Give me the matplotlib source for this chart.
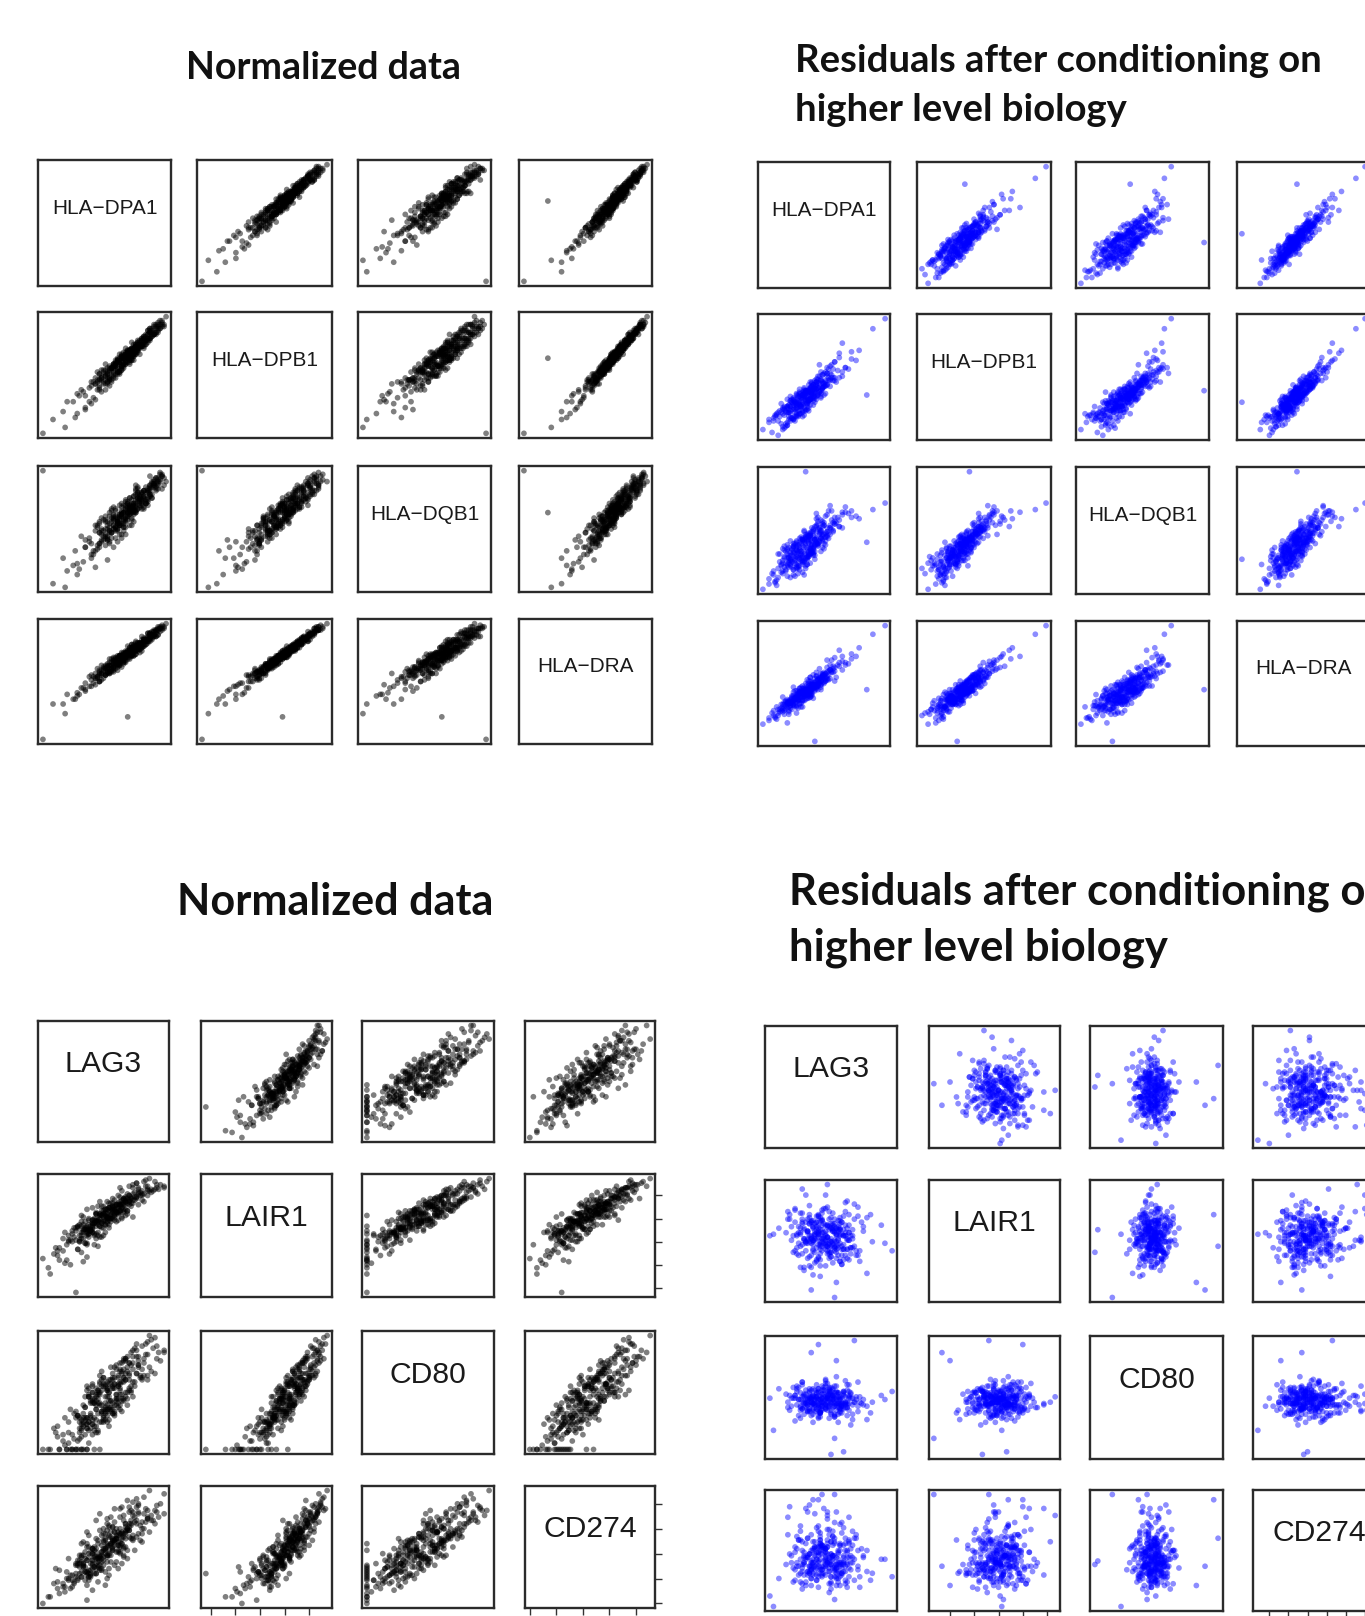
import matplotlib
matplotlib.use("Agg")
import matplotlib.pyplot as plt
from matplotlib.ticker import MaxNLocator
import numpy as np

# ---------------- gene names ----------------
hla_genes = ["HLA\u2212DPA1", "HLA\u2212DPB1", "HLA\u2212DQB1", "HLA\u2212DRA"]
imm_genes = ["LAG3", "LAIR1", "CD80", "CD274"]

# ---------------- HLA block, normalized expression (tenths) ----------------
hla_norm_dpa1 = [
    -41, -30, -31, -24, -26, -20, -23, -18, -21, -16,
    -15, -13, -17, -12, -14, -11, -15, -13, -10, -14,
    -12, -9, -10, -13, -8, -11, -7, -10, -12, -8,
    -9, -6, -8, -10, -5, -7, -9, -6, -8, -4,
    -7, -4, -6, -8, -3, -5, -7, -2, -6, -4,
    -5, -2, -4, -6, -1, -3, -5, -2, -4, -1,
    -3, 0, -2, -4, 1, -1, -3, 0, -2, -5,
    -1, 2, -2, 0, -3, 1, -1, 2, 0, -2,
    1, -1, 3, 0, 2, -2, 1, 4, 0, 2,
    2, 4, 1, 3, 5, 0, 3, 2, 4, 1,
    4, 6, 3, 5, 2, 7, 4, 3, 6, 5,
    6, 4, 7, 5, 8, 3, 6, 7, 5, 9,
    8, 6, 9, 7, 10, 5, 8, 9, 7, 11,
    10, 12, 9, 11, 8, 13, 10, 11, 9, 12,
    12, 14, 11, 13, 15, 12, 14, 13, 16, 12,
    15, 17, 14, 16, 18, 16, 17, 19, 18, 20,
    -36, -25, -29, -20, -24, -17, -22, -15, -20, -13,
    -17, -10, -14, -18, -9, -15, -12, -16, -8, -13,
    -8, -13, -11, -6, -14, -9, -12, -7, -10, -13,
    -11, -5, -9, -4, -10, -7, -3, -9, -6, -12,
    -3, -8, -5, -9, -2, -7, -4, -10, -6, -1,
    -6, -1, -7, -3, -5, 0, -8, -2, -4, -6,
    0, -4, -2, -6, 1, -3, -5, 2, -1, -4,
    3, -2, 1, -4, 2, -1, 4, -3, 0, 3,
    -2, 3, 0, 4, -1, 2, 5, 1, -3, 3,
    5, 1, 3, 6, 0, 4, 2, 7, 1, 5,
    2, 6, 5, 3, 7, 1, 6, 4, 8, 3,
    8, 4, 6, 9, 3, 7, 5, 10, 4, 8,
    6, 10, 8, 5, 11, 7, 9, 12, 6, 10,
    12, 9, 11, 8, 13, 10, 12, 9, 14, 11,
    14, 11, 15, 13, 12, 16, 14, 12, 15, 13,
    15, 16, 14, 17, 15, 18, 16, 17, 19, 18,
]
hla_norm_dpb1 = [
    -38, -35, -27, -28, -22, -25, -19, -22, -17, -20,
    -13, -16, -14, -11, -16, -12, -13, -15, -11, -12,
    -10, -12, -8, -11, -10, -7, -12, -9, -10, -11,
    -7, -9, -10, -6, -8, -9, -5, -8, -7, -6,
    -5, -8, -4, -6, -7, -4, -5, -6, -3, -7,
    -3, -5, -2, -4, -3, -6, -2, -4, -5, -3,
    -1, -3, -4, -1, -2, 0, -3, -2, -1, -4,
    0, -2, 1, -1, -2, 0, 1, -1, 2, 0,
    2, 0, 1, 3, -1, 2, 0, 3, 1, 2,
    3, 1, 4, 2, 3, 5, 1, 4, 2, 3,
    5, 3, 4, 6, 4, 5, 2, 5, 4, 6,
    5, 7, 6, 4, 6, 8, 5, 7, 6, 5,
    7, 9, 8, 6, 9, 7, 10, 8, 6, 9,
    11, 9, 10, 12, 10, 11, 9, 12, 10, 13,
    13, 12, 14, 12, 13, 15, 12, 14, 14, 13,
    16, 15, 17, 15, 17, 16, 19, 17, 18, 21,
    -31, -30, -22, -26, -18, -23, -16, -21, -19, -14,
    -12, -16, -11, -15, -13, -10, -17, -12, -14, -11,
    -11, -8, -13, -10, -7, -12, -9, -11, -13, -8,
    -6, -10, -8, -7, -9, -5, -8, -10, -7, -6,
    -7, -4, -3, -8, -6, -5, -7, -3, -5, -4,
    -3, -5, -6, -2, -4, -3, -5, -4, -1, -5,
    -2, -1, -4, -3, 0, -2, -1, -3, -2, 0,
    -1, 1, 0, -2, 1, 0, -1, 2, 1, -1,
    1, 0, 2, 1, 3, 0, 2, 1, 0, 2,
    2, 3, 1, 4, 2, 3, 4, 2, 3, 4,
    4, 5, 3, 5, 6, 4, 5, 3, 6, 4,
    6, 5, 7, 6, 5, 8, 6, 7, 5, 7,
    8, 7, 9, 7, 8, 9, 7, 10, 8, 9,
    10, 11, 10, 9, 11, 12, 10, 11, 12, 10,
    13, 14, 12, 13, 15, 13, 12, 14, 13, 15,
    15, 17, 16, 15, 17, 16, 18, 17, 16, 19,
]
hla_norm_dqb1 = [
    24, -40, -24, -33, -28, -18, -30, -15, -26, -22,
    -20, -10, -16, -8, -19, -14, -9, -18, -13, -6,
    -14, -6, -12, -16, -5, -9, -13, -4, -11, -15,
    -12, -3, -7, -11, -9, -2, -13, -6, -10, -4,
    -10, -2, -6, -9, -1, -7, -4, -11, -3, -8,
    -8, 0, -5, -1, -7, -3, 2, -6, -4, 1,
    -6, 2, -1, -5, 3, -3, 0, -7, 1, -2,
    -4, 3, -1, 4, -5, 1, -2, 5, -3, 2,
    -3, 5, 1, -2, 4, 0, 6, -4, 3, 2,
    0, 6, -1, 4, 2, 7, -2, 5, 3, 1,
    1, 8, 3, 6, 0, 9, 5, 2, 7, 4,
    3, 10, 5, 1, 8, 4, 11, 6, 2, 9,
    5, 12, 3, 9, 6, 13, 8, 4, 11, 7,
    7, 14, 10, 5, 12, 9, 15, 8, 13, 11,
    10, 16, 12, 9, 15, 13, 17, 11, 14, 16,
    13, 18, 15, 20, 14, 17, 19, 16, 21, 18,
    -38, -20, -31, -14, -27, -24, -12, -29, -18, -10,
    -22, -8, -17, -13, -25, -6, -15, -20, -9, -16,
    -16, -4, -12, -18, -7, -14, -2, -10, -17, -5,
    -3, -13, -8, -15, -1, -10, -6, -14, 0, -9,
    -11, -1, -7, -4, -13, 2, -9, -3, -8, 1,
    -2, -9, 3, -6, -1, -11, 1, -5, -8, 4,
    5, -4, 0, -8, 6, -2, 3, -6, 1, -5,
    -6, 4, 7, -3, 2, -7, 5, 0, -4, 6,
    6, -3, 8, 2, -5, 9, 1, -1, 5, 3,
    8, 0, 4, 9, -2, 6, 3, 10, 1, 5,
    9, 3, 11, 1, 7, 4, 12, 0, 6, 8,
    12, 4, 9, 13, 2, 8, 14, 6, 10, 3,
    14, 6, 11, 16, 9, 4, 13, 10, 15, 8,
    16, 10, 13, 7, 18, 12, 15, 9, 17, 14,
    18, 13, 20, 15, 11, 19, 16, 21, 14, 17,
    20, 16, 19, 22, 17, 21, 18, 23, 20, 22,
]
hla_norm_dra = [
    -52, -36, -30, -25, -27, -21, -24, -19, -20, -17,
    -14, -16, -12, -15, -13, -14, -11, -16, -12, -13,
    -11, -10, -12, -9, -11, -8, -10, -11, -9, -10,
    -8, -7, -9, -8, -6, -8, -7, -9, -6, -7,
    -6, -5, -7, -4, -6, -5, -6, -3, -5, -6,
    -4, -3, -5, -2, -4, -4, -3, -2, -5, -3,
    -2, -1, -3, -2, -1, -2, 0, -3, -1, -2,
    -1, 0, -1, 1, 0, -38, 0, 1, -1, 0,
    1, 2, 0, 1, 2, 1, 3, 0, 2, 1,
    2, 3, 2, 4, 1, 3, 2, 3, 4, 2,
    4, 5, 3, 4, 5, 4, 6, 3, 5, 4,
    6, 5, 7, 6, 5, 7, 6, 8, 5, 6,
    8, 7, 9, 8, 7, 9, 8, 10, 7, 8,
    10, 11, 9, 10, 12, 10, 11, 9, 11, 10,
    13, 12, 14, 13, 12, 14, 13, 15, 13, 14,
    16, 15, 16, 17, 16, 18, 17, 18, 19, 20,
    -30, -27, -24, -22, -23, -19, -20, -18, -17, -16,
    -15, -12, -14, -13, -11, -14, -12, -13, -11, -12,
    -10, -11, -9, -10, -8, -10, -11, -9, -8, -10,
    -7, -8, -6, -9, -7, -8, -6, -7, -8, -6,
    -5, -6, -4, -5, -7, -4, -5, -6, -4, -5,
    -3, -4, -2, -5, -3, -4, -2, -3, -4, -3,
    -1, -2, -3, -1, -2, 0, -1, -2, -3, -1,
    0, -1, 1, 0, -1, 1, 0, -1, 1, 0,
    2, 1, 0, 2, 1, 3, 1, 2, 0, 1,
    3, 2, 4, 3, 2, 3, 4, 2, 3, 4,
    5, 4, 3, 5, 4, 6, 4, 5, 3, 5,
    6, 7, 5, 6, 7, 5, 6, 7, 6, 5,
    8, 9, 7, 8, 9, 8, 7, 9, 8, 10,
    11, 10, 12, 10, 11, 9, 11, 10, 12, 11,
    13, 14, 12, 13, 14, 13, 15, 12, 14, 13,
    15, 16, 15, 17, 16, 17, 16, 18, 17, 18,
]

# ---------------- HLA block, residuals (tenths) ----------------
hla_res_dpa1 = [
    -28, -18, -24, -15, -20, -22, -12, -19, -14, -21,
    -8, -17, -12, -20, -10, -15, -6, -13, -18, -11,
    -14, -5, -11, -16, -8, -3, -12, -9, -15, -6,
    -4, -12, -9, -2, -14, -7, -10, -5, -1, -11,
    -9, -2, -6, -12, 0, -8, -4, -10, -3, -7,
    -1, -8, -5, 2, -10, -3, -6, 1, -7, -2,
    -5, 1, -3, -8, 3, -1, -6, 2, -4, 0,
    2, -4, 0, 5, -2, 3, -6, 1, 4, -1,
    -2, 5, 1, -4, 6, 2, -1, 4, 8, 0,
    6, 1, 4, 40, -1, 3, 7, 2, 5, 10,
    3, 8, 5, 1, 10, 6, 2, 7, 11, 4,
    9, 4, 7, 12, 3, 8, 13, 5, 10, 6,
    6, 11, 14, 8, 3, 12, 9, 16, 7, 10,
    13, 8, 16, 11, 19, 7, 14, 10, 12, 17,
    11, 18, 15, 22, 13, 9, 20, 16, 24, 14,
    19, 28, 22, 17, 30, 26, 35, 24, 44, 52,
    -24, -15, -21, -12, -19, -13, -18, -10, -16, -11,
    -16, -9, -14, -7, -13, -17, -8, -11, -15, -10,
    -12, -6, -10, -14, -5, -8, -13, -7, -11, -4,
    -9, -3, -11, -6, -8, -2, -10, -5, -7, -12,
    -2, -8, -5, -10, -1, -7, -4, -9, 0, -6,
    -6, 0, -3, -8, 1, -5, -2, -7, -4, 2,
    1, -4, -1, -6, 2, -3, 0, -5, 3, -2,
    -3, 2, -1, 3, -5, 0, 4, -2, 1, -4,
    3, -2, 5, 0, -3, 4, 1, -1, 6, 2,
    0, 5, 3, -1, 6, 2, 4, 7, 1, -2,
    6, 2, 7, 4, 0, 8, 3, 5, 1, 6,
    3, 8, 5, 9, 4, 2, 7, 10, 6, 3,
    10, 5, 8, 12, 6, 9, 4, 11, 7, 13,
    8, 13, 11, 7, 14, 10, 12, 15, 9, 11,
    15, 11, 17, 13, 10, 16, 14, 19, 12, 18,
    18, 14, 21, 16, 24, 19, 26, 22, 33, 30,
]
hla_res_dpb1 = [
    -22, -26, -15, -20, -13, -24, -17, -11, -21, -16,
    -14, -9, -19, -12, -16, -7, -13, -18, -10, -15,
    -7, -13, -10, -4, -15, -11, -6, -14, -8, -12,
    -11, -6, -3, -13, -8, -10, -2, -9, -12, -5,
    -3, -10, -7, -1, -9, -5, -11, 1, -6, -4,
    -7, 0, -4, -9, -2, -6, 2, -8, -1, -5,
    0, -6, 3, -2, -5, 1, -3, -7, 4, -1,
    -3, 1, 5, -5, 2, -1, 3, -4, 0, 6,
    4, -2, 0, 6, -3, 3, 7, -1, 2, 5,
    0, 5, 8, 2, 4, -1, 6, 9, 3, 1,
    7, 2, 9, 5, 0, 8, 4, 11, 6, 3,
    4, 10, 6, 2, 11, 7, 3, 9, 12, 5,
    12, 7, 9, 13, 6, 10, 15, 8, 11, 5,
    9, 15, 12, 7, 14, 11, 17, 13, 8, 16,
    16, 12, 20, 14, 18, 23, 11, 17, 15, 21,
    25, 20, 31, 23, 27, 21, 33, 38, 48, 55,
    -17, -22, -14, -19, -12, -20, -16, -11, -18, -13,
    -10, -14, -12, -16, -9, -13, -15, -8, -11, -14,
    -7, -11, -9, -6, -12, -8, -10, -13, -5, -9,
    -8, -5, -10, -7, -4, -9, -6, -3, -8, -10,
    -4, -7, -2, -6, -9, -3, -5, -1, -8, -4,
    -5, -2, -6, -1, -4, -7, 0, -3, -6, -2,
    -1, -3, 1, -5, -2, 0, -4, 2, -1, -3,
    0, -2, 3, -1, 1, -3, 2, 0, -2, 3,
    -1, 2, 1, 4, -2, 3, 0, 5, 2, -1,
    3, 0, 4, 2, 5, 1, 3, -1, 4, 2,
    4, 6, 1, 5, 3, 7, 2, 6, 4, 1,
    7, 3, 6, 4, 8, 5, 9, 3, 7, 6,
    5, 9, 7, 10, 6, 8, 11, 7, 9, 12,
    11, 8, 10, 13, 9, 12, 8, 14, 10, 11,
    12, 16, 14, 11, 18, 13, 15, 12, 17, 14,
    20, 17, 19, 22, 18, 25, 21, 28, 26, 32,
]
hla_res_dqb1 = [
    -30, -14, -22, -8, -25, -18, -11, -27, -5, -16,
    -19, -3, -12, -24, -7, -16, 0, -10, -21, -13,
    -6, -18, 2, -11, -15, -4, -20, -9, 1, -13,
    -15, 0, -9, -17, 3, -6, -12, -1, -19, -4,
    1, -11, -5, 4, -14, -2, 6, -8, -3, -10,
    -9, 3, -13, -2, 7, -6, 0, -11, 5, -4,
    4, -7, 8, -1, -10, 2, 6, -5, -12, 10,
    -3, 9, 60, 0, -8, 11, 3, -5, 7, -1,
    8, -4, 12, 2, -7, 6, 14, -2, 5, 10,
    -1, 11, 4, 6, 15, 0, 8, 13, -3, 9,
    12, 3, 16, 7, -1, 10, 5, 18, 2, 14,
    6, 17, 9, 1, 13, 20, 4, 11, 15, 8,
    18, 7, 14, 22, 10, 5, 16, 12, 24, 9,
    13, 25, 17, 8, 20, 28, 11, 15, 19, 23,
    22, 14, 30, 18, 26, 12, 21, 34, 17, 27,
    22, 28, 18, 30, 25, 33, 24, 29, 31, 36,
    -26, -10, -19, -6, -23, -15, -3, -21, -12, -8,
    -17, -4, -13, -20, -1, -9, -15, -6, -18, -11,
    -3, -14, -8, 0, -12, -5, -16, -2, -10, -7,
    -13, -1, -6, -11, 2, -9, -4, -14, -7, 1,
    -5, 3, -10, -2, -8, 4, -6, 0, -12, -3,
    2, -7, -1, 5, -11, -4, 3, -8, 0, -5,
    -6, 4, -3, 7, -1, -8, 5, -2, 2, -9,
    5, -4, 8, 1, -6, 3, -2, 9, -5, 0,
    -3, 7, 2, -6, 10, 4, -1, 6, -4, 8,
    9, 1, -3, 7, 4, 11, -1, 5, 2, 8,
    3, 10, 6, 0, 12, 5, 8, -2, 9, 4,
    11, 5, 14, 7, 2, 10, 6, 13, 8, 1,
    9, 15, 4, 12, 8, 17, 6, 11, 14, 10,
    16, 7, 12, 19, 10, 14, 21, 9, 13, 18,
    13, 20, 16, 10, 23, 17, 14, 25, 19, 15,
    21, 17, 25, 19, 27, 20, 29, 23, 26, 30,
]
hla_res_dra = [
    -26, -19, -23, -14, -21, -17, -25, -12, -18, -15,
    -11, -16, -9, -20, -13, -10, -17, -7, -14, -12,
    -13, -7, -15, -10, -5, -12, -8, -14, -4, -11,
    -6, -10, -3, -12, -8, -4, -11, -7, -2, -9,
    -8, -1, -5, -10, -3, -7, 0, -9, -4, -6,
    -3, -7, 1, -5, -9, -1, -4, 2, -6, 0,
    -6, 2, -2, 4, -4, -7, 1, -1, 3, -3,
    3, -1, 2, -5, 5, 0, -3, 6, -2, 1,
    0, 6, -2, 3, -40, 7, 1, -3, 5, 2,
    5, 0, 7, 2, 3, 9, 4, -1, 8, 6,
    1, 7, 4, 10, 6, 2, 9, 5, 12, 3,
    10, 6, 3, 8, 12, 5, 9, 14, 4, 11,
    8, 14, 10, 5, 12, 16, 7, 11, 13, 9,
    15, 11, 18, 13, 9, 16, 20, 12, 14, 17,
    13, 21, 17, 24, 15, 19, 12, 22, 18, 26,
    28, 23, 34, 26, 31, 22, 36, 29, 47, 54,
    -21, -16, -19, -12, -22, -14, -17, -11, -15, -18,
    -13, -9, -15, -11, -8, -14, -10, -16, -12, -7,
    -9, -12, -6, -10, -13, -7, -11, -5, -8, -10,
    -5, -9, -7, -4, -10, -6, -8, -3, -9, -6,
    -7, -3, -6, -8, -2, -5, -9, -4, -1, -7,
    -2, -6, -4, 0, -5, -3, -7, 1, -4, -2,
    -4, 0, -2, -5, 1, -3, 2, -1, -4, 0,
    1, -3, 0, 2, -2, 3, -1, -4, 2, 0,
    -2, 1, 3, -1, 4, 0, 2, -3, 5, 1,
    2, 4, 0, 3, 1, 5, 2, 4, -1, 3,
    5, 1, 6, 3, 7, 2, 4, 6, 0, 5,
    4, 7, 3, 8, 6, 5, 9, 2, 7, 6,
    9, 6, 10, 7, 5, 11, 8, 12, 6, 9,
    10, 12, 8, 13, 11, 9, 14, 10, 12, 15,
    14, 12, 16, 11, 15, 18, 13, 17, 12, 16,
    19, 16, 22, 18, 25, 20, 24, 21, 29, 27,
]

# ---------------- checkpoint block, normalized expression (tenths) ----------------
lag3_norm = [
    -33, -18, -29, -12, -24, -26, -9, -21, -15, -25,
    -20, -6, -14, -22, -10, -17, -3, -12, -19, -8,
    -4, -16, -9, -13, 1, -11, -18, -6, -2, -14,
    -12, -1, -8, -15, -5, 3, -10, -3, -13, -7,
    0, -9, -4, -13, 4, -7, -1, -11, 2, -6,
    -10, 3, -6, 1, -12, -2, 6, -8, -4, 2,
    5, -7, 0, -10, 3, -4, 8, -1, -6, 4,
    -5, 6, -2, 9, -8, 2, -3, 7, 0, -9,
    8, -3, 4, -6, 10, 1, -4, 6, 12, -1,
    2, 11, -2, 7, 0, 13, 5, -4, 9, 3,
    10, 1, 14, 6, -2, 8, 12, 3, 16, 5,
    4, 13, 8, 17, 2, 10, 6, 15, 0, 11,
    14, 5, 11, 19, 8, 3, 16, 9, 13, 21,
    7, 17, 12, 22, 15, 5, 19, 10, 24, 14,
    20, 11, 25, 15, 9, 22, 17, 28, 13, 19,
    24, 14, 21, 29, 18, 26, 31, 23, 33, 28,
    -30, -14, -25, -20, -9, -27, -17, -22, -11, -19,
    -16, -24, -8, -13, -19, -5, -15, -21, -10, -12,
    -7, -13, -17, -2, -11, -15, -5, -9, -14, -3,
    -14, -4, -10, -1, -12, -7, 0, -11, -6, -9,
    -8, 2, -11, -5, -1, -9, 3, -7, -3, -12,
    1, -6, -9, 4, -3, -11, 0, -5, 5, -8,
    -4, 6, -8, 1, -5, 7, -2, -9, 2, -6,
    4, -3, 8, -6, 1, -8, 5, -1, 10, -4,
    -4, 7, 2, 11, -2, 5, -6, 9, 0, 3,
    7, -1, 10, 3, 13, -3, 6, 1, 9, -2,
    1, 12, 5, 9, -1, 15, 3, 7, 11, 2,
    9, 2, 14, 6, 11, 0, 16, 4, 8, 12,
    5, 15, 9, 12, 2, 18, 7, 10, 14, 4,
    18, 9, 14, 6, 20, 12, 8, 16, 11, 21,
    13, 24, 18, 10, 21, 16, 26, 12, 19, 23,
    19, 27, 16, 24, 30, 22, 18, 33, 25, 29,
]
lair1_norm = [
    -26, -30, -36, -22, -27, -19, -25, -29, -48, -21,
    -17, -9, -20, -13, -16, -8, -18, -11, -15, -10,
    -13, -6, -11, -15, -4, -9, -14, -7, -12, -5,
    -9, -3, -12, -6, -10, -1, -7, -11, -4, -8,
    -2, -9, -5, -11, 0, -7, -3, -8, 1, -6,
    -6, 0, -3, -9, 2, -5, -1, -7, 3, -2,
    1, -5, 3, -2, -6, 4, -1, 2, -4, 0,
    -3, 3, 0, 5, -4, 1, -2, 4, -1, 6,
    5, -1, 3, 7, 0, 4, -2, 6, 2, 8,
    0, 6, 3, 9, 1, 5, 8, -1, 4, 7,
    7, 2, 9, 5, 11, 3, 6, 10, 1, 8,
    4, 10, 7, 12, 3, 9, 6, 13, 8, 5,
    11, 6, 13, 9, 15, 7, 10, 14, 5, 12,
    9, 14, 11, 16, 8, 13, 17, 10, 15, 12,
    15, 12, 18, 14, 20, 11, 17, 19, 13, 16,
    18, 21, 16, 20, 23, 19, 22, 25, 21, 24,
    -32, -20, -24, -27, -17, -23, -15, -21, -28, -14,
    -12, -19, -10, -15, -11, -17, -14, -9, -16, -13,
    -8, -14, -10, -5, -13, -8, -11, -16, -6, -9,
    -5, -10, -7, -12, -2, -8, -11, -4, -9, -6,
    -8, -3, -7, -1, -6, -10, -4, -7, -2, -5,
    -1, -5, -7, -2, -4, 1, -6, -3, 0, -8,
    -3, 2, -1, -4, 0, -2, 3, -5, 1, -1,
    2, -1, 4, -3, 3, 0, 5, -2, 1, 3,
    3, 6, 0, 4, 2, 7, -1, 5, 3, 1,
    4, 2, 7, 5, 3, 8, 1, 6, 9, 2,
    6, 9, 4, 8, 5, 10, 7, 3, 9, 6,
    9, 6, 11, 8, 10, 5, 12, 7, 9, 11,
    10, 13, 8, 12, 11, 14, 9, 12, 15, 10,
    13, 11, 15, 12, 17, 14, 10, 16, 13, 18,
    16, 19, 14, 18, 15, 20, 17, 13, 19, 21,
    20, 18, 22, 21, 19, 24, 23, 20, 26, 22,
]
cd80_norm = [
    -22, -22, -22, -22, -22, -14, -22, -20, -22, -11,
    -22, -10, -18, -15, -7, -22, -13, -16, -9, -19,
    -14, -5, -12, -17, -8, -11, -3, -15, -9, -6,
    -10, -4, -13, -7, -22, -11, -8, -5, -12, 0,
    -6, -12, -3, -9, 1, -7, -4, -10, -1, -8,
    -2, -8, 2, -5, -22, 0, -6, 3, -3, -9,
    -5, 1, -7, 3, -3, -8, 2, -1, 5, -4,
    2, -4, 5, -1, 7, -6, 0, 4, -3, 8,
    -2, 6, 1, 9, -4, 3, 7, -1, 5, 11,
    6, 1, 9, 4, 12, -1, 7, 3, 10, 5,
    2, 9, 6, 12, 4, 8, 14, 1, 10, 7,
    11, 5, 13, 8, 3, 15, 9, 6, 12, 16,
    7, 14, 10, 17, 12, 5, 19, 9, 15, 11,
    16, 10, 20, 13, 18, 8, 22, 14, 11, 19,
    12, 21, 17, 24, 15, 19, 26, 14, 22, 18,
    23, 19, 27, 21, 25, 30, 20, 28, 24, 31,
    -22, -22, -16, -22, -22, -12, -22, -18, -22, -14,
    -17, -22, -9, -14, -19, -11, -22, -7, -15, -12,
    -12, -7, -15, -22, -9, -4, -13, -10, -6, -14,
    -6, -11, -2, -9, -13, -5, -8, -1, -10, -7,
    -9, -3, -7, 0, -5, -10, -2, -6, 2, -8,
    -4, 1, -7, -2, 4, -5, -9, 0, -3, 3,
    1, -5, 4, -3, -7, 2, -1, 6, -4, 0,
    -3, 5, 0, 8, -2, 3, -5, 6, 1, -1,
    4, -1, 7, 2, 10, 0, 5, -3, 8, 3,
    1, 8, 4, 11, 2, 6, 9, 0, 7, 13,
    8, 3, 11, 6, 15, 5, 9, 2, 12, 7,
    4, 10, 14, 7, 12, 9, 3, 17, 8, 11,
    12, 8, 16, 11, 6, 14, 18, 10, 13, 9,
    14, 19, 11, 17, 13, 21, 9, 16, 20, 12,
    17, 13, 22, 19, 16, 25, 15, 21, 18, 23,
    20, 26, 22, 29, 24, 21, 28, 25, 32, 27,
]
cd274_norm = [
    -30, -21, -26, -14, -24, -9, -19, -23, -12, -17,
    -15, -22, -6, -18, -11, -20, -8, -14, -3, -16,
    -9, -17, -4, -12, -19, -7, -13, 0, -10, -15,
    -11, -3, -14, -6, 2, -9, -16, -5, -1, -12,
    -4, -13, 3, -8, -1, -10, 5, -6, -15, 0,
    -8, 2, -4, -11, 6, -2, -7, 4, -12, -5,
    3, -6, 7, -3, 0, 9, -9, 1, -4, 5,
    -2, 8, -7, 4, 11, -1, 6, -5, 2, 13,
    7, -3, 10, 3, -6, 12, 1, 8, 18, -1,
    4, 12, -2, 9, 15, 2, 7, 20, 0, 11,
    10, 3, 14, 7, 24, 5, 12, -1, 9, 16,
    6, 15, 11, 2, 18, 9, 13, 26, 8, 4,
    14, 9, 20, 12, 5, 17, 11, 22, 15, 7,
    11, 19, 14, 24, 9, 16, 29, 13, 21, 18,
    17, 23, 13, 20, 27, 15, 22, 18, 32, 25,
    21, 28, 19, 25, 33, 23, 30, 27, 36, 26,
    -26, -16, -21, -11, -28, -18, -13, -20, -8, -15,
    -18, -10, -14, -4, -16, -12, -7, -20, -11, -2,
    -13, -6, -16, -9, -1, -14, -8, -11, -4, -17,
    -7, -12, 1, -10, -5, -14, -2, -8, 3, -11,
    -12, -2, -6, 4, -9, -4, -13, 1, -7, -1,
    0, -9, 4, -5, -2, 7, -7, -1, 2, -10,
    -6, 5, -2, 8, -8, 1, -4, 6, -1, 3,
    6, -3, 2, -7, 9, 0, 4, -5, 12, -2,
    -3, 9, 5, -1, 14, 2, -6, 7, 3, 10,
    10, 1, 6, 16, -3, 8, 13, 2, 5, -1,
    3, 13, 8, 1, 11, 18, 5, 9, -2, 14,
    15, 6, 10, 19, 3, 12, 8, 22, 1, 9,
    8, 17, 12, 4, 21, 10, 15, 6, 25, 13,
    20, 12, 16, 27, 8, 18, 13, 23, 10, 15,
    14, 22, 18, 28, 12, 25, 20, 16, 30, 19,
    24, 20, 31, 26, 22, 34, 28, 24, 38, 29,
]

# ---------------- checkpoint block, residuals (tenths) ----------------
lag3_res = [
    3, -8, 12, -2, 5, -15, 9, 0, -6, 14,
    -11, 4, -3, 18, -7, 1, 10, -13, 6, -1,
    7, -5, 22, -9, 2, -18, 8, 13, -4, 0,
    -2, 11, -7, 5, -12, 16, 3, -10, 9, -6,
    15, -1, 6, -14, 4, -3, 12, -8, 1, 20,
    -5, 8, -16, 2, 10, -7, -2, 14, -11, 5,
    0, -9, 7, 24, -4, 11, -13, 3, -1, 9,
    13, -6, 2, -10, 17, -3, 6, -19, 8, -2,
    -7, 4, 10, -1, -15, 7, 1, 12, -5, 19,
    6, -12, 3, 9, -3, -8, 15, 0, -20, 4,
    -4, 14, -9, 1, 8, -2, 26, -11, 5, 11,
    10, -3, 5, -17, 0, 13, -6, 7, 2, -10,
    -1, 7, -13, 16, 4, -5, 9, -2, 12, -8,
    2, 21, -4, 6, -9, 3, -14, 11, -3, 8,
    -12, 1, 9, -6, 14, 0, 5, -16, 7, 32,
    4, -10, 38, -3, 11, -7, 2, 17, -28, 6,
    8, -3, 14, -11, 2, -6, 19, -1, 5, -16,
    11, -7, 1, -13, 6, -2, 9, -21, 4, -8,
    3, -12, 16, -5, 7, -1, 12, -9, 1, -4,
    20, -6, 4, -15, 9, -3, 2, -10, 13, -7,
    5, -1, 10, -18, 3, -8, 7, -2, 15, -12,
    1, -9, 6, -4, 24, -6, 11, -14, 2, -3,
    9, -17, 4, -2, 13, -8, 1, -5, 18, -11,
    6, -2, 12, -7, 3, -20, 8, -1, 10, -13,
    2, -5, 17, -9, 5, -3, 14, -6, 1, -25,
    12, -4, 7, -11, 3, -1, 22, -8, 6, -15,
    4, -7, 9, -2, 16, -12, 1, -4, 11, -6,
    15, -1, 3, -9, 7, -19, 5, -3, 13, -10,
    1, -14, 10, -5, 2, -7, 27, -2, 8, -4,
    7, -3, 13, -16, 4, -9, 6, -1, 19, -6,
    3, -11, 8, -4, 14, -2, 9, -13, 1, -8,
    10, -5, 2, -30, 6, -12, 34, -7, 4, -1,
]
lair1_res = [
    -4, 9, -12, 2, 16, -7, 5, -1, 11, -15,
    6, -3, 14, -9, 0, 8, -18, 3, -6, 12,
    -10, 1, 7, -14, 20, -2, 4, -8, 10, 0,
    13, -5, -1, 9, -11, 5, 17, -3, -16, 7,
    -7, 11, 3, -4, 6, -13, 1, 15, -2, -9,
    2, -12, 19, 0, -6, 10, -3, 8, -20, 4,
    9, -1, -8, 13, 3, -15, 6, -5, 11, 1,
    -14, 7, 0, -3, 22, 4, -9, 12, -2, 5,
    1, -6, 10, 18, -11, 2, -4, 8, -17, 14,
    -3, 16, -10, 5, 0, 9, -7, 3, 12, -13,
    7, -2, 4, -19, 11, -5, 15, -1, 6, -8,
    -12, 3, 8, 1, -4, 24, -9, 6, 0, 10,
    5, -14, 2, -7, 13, -1, 9, -11, 17, -3,
    -6, 10, -16, 4, -2, 7, -12, 1, 14, -5,
    12, -8, 6, -25, 3, 19, -4, 10, -30, 8,
    -1, 28, -9, 15, 5, -20, 35, -6, 2, -40,
    7, 2, 15, 5, -9, -3, -12, -1, 4, 18,
    1, 10, -6, -20, -2, -8, 11, 3, 6, 1,
    -14, -5, -1, -10, 2, 8, 23, 4, -3, -7,
    -16, -2, 9, 1, 13, 6, -11, -4, -8, -1,
    5, 16, 2, 7, -2, -13, -6, -19, 1, 10,
    4, 12, -7, -1, -24, -5, 14, 3, 8, 2,
    -4, -10, -3, -15, 6, 21, 1, 9, -12, -2,
    -7, -4, 3, 11, 5, 17, -1, -9, -18, -6,
    8, 2, 12, 4, -5, -14, -2, -8, 19, 6,
    1, 10, -3, -22, -7, -1, 4, 13, 7, 2,
    -10, -4, -16, -6, 1, 9, 28, 5, -8, -2,
    -11, -3, 12, 3, 6, 15, -17, -5, -1, -9,
    2, 7, 10, 4, -6, -12, -3, -26, 5, 14,
    1, 8, -2, -9, -13, -4, 9, 3, 20, 6,
    -11, -1, -7, -15, 3, 11, 2, 16, -5, -19,
    -8, -2, 7, 1, 12, 32, -4, -35, -10, -6,
]
cd80_res = [
    5, 2, -3, -8, 1, 11, -6, -1, 4, 7,
    -2, -10, 9, 3, -1, -5, 2, 6, -12, -4,
    7, 1, -3, -7, 13, 2, -5, -1, 3, 8,
    -9, -2, 1, 4, -6, -14, 10, 5, -2, -3,
    6, 1, -4, -11, 2, 9, -1, -6, 15, 3,
    -8, -2, 4, 7, -3, -1, 1, 12, -10, -5,
    8, 2, -2, -4, 3, 6, -7, -13, 11, 1,
    -5, -2, 2, 8, -1, -9, 6, 4, -16, -3,
    1, 5, -4, -7, 9, 2, -2, -1, 3, 14,
    -11, -6, 7, 1, -3, -8, 2, 10, -5, -2,
    12, 4, -1, -6, 5, 3, -9, -1, 1, 7,
    -4, -12, 8, 2, -2, -5, 4, 18, -7, -1,
    2, 6, -13, -3, 10, 1, -6, -4, 3, 9,
    -1, -2, 6, 11, -8, -3, 1, 4, -5, -10,
    14, 2, -3, -7, 2, 5, -1, -15, 30, 4,
    -9, -2, 7, 42, -38, -1, 3, 45, -22, -28,
    3, 7, -2, -5, 1, 9, -8, -1, 4, 2,
    -6, -3, 11, 1, -4, -9, 2, 5, -1, -7,
    6, 3, -10, -2, 1, 8, -5, -3, 13, 2,
    -1, -6, 4, 7, -8, -2, 2, 1, -3, -11,
    9, 5, -2, -4, 1, 3, -7, -1, 5, 12,
    -3, -8, 2, 6, -14, -2, 7, 1, -4, -5,
    3, 10, -1, -9, 8, 2, -6, -3, 1, 4,
    -2, -12, 15, 3, -5, -1, 6, 2, -9, -4,
    2, 8, -1, -3, 4, 1, -7, -16, 3, 9,
    -2, -6, 11, 5, -4, -1, 1, 6, -10, -3,
    7, 2, -5, -8, 2, 14, -3, -1, 5, 3,
    -18, -6, 9, 1, -2, -7, 3, 6, -11, -4,
    1, 10, -6, -2, 4, 8, -1, -9, 6, 2,
    -3, -13, 12, 4, -7, -2, 2, 5, -4, -10,
    8, 3, -1, -6, 3, 1, -9, -5, 16, 7,
    -2, -3, 5, 2, -12, -1, 1, 36, -40, -4,
]
cd274_res = [
    -6, 4, -11, 1, 9, -3, -14, 6, -1, 12,
    3, -9, 0, 15, -5, 7, -2, -12, 10, -7,
    -4, 11, 2, -8, 18, -1, 5, -15, 8, 0,
    14, -6, -10, 3, -2, 9, -13, 1, 6, -4,
    -1, 7, -22, 12, 4, -7, 10, -3, 2, -9,
    8, -12, 5, -1, 16, 0, -5, 11, -8, 3,
    -3, 13, -7, 6, -11, 2, 20, -4, 9, -2,
    5, -8, 10, -14, 1, 17, -6, 4, -1, 8,
    -10, 2, 22, -3, 7, -9, 0, 13, -5, 6,
    11, -4, -1, 9, -15, 4, 3, -7, 15, -2,
    1, 25, -6, 7, -2, 12, -11, 5, 0, 19,
    -7, 3, 14, -12, 8, -1, 6, -4, 28, 2,
    9, -5, 1, 17, -9, 4, -3, 10, -13, 32,
    0, 7, -8, 3, 28, -6, 12, -1, 5, -10,
    6, -2, 21, -7, 2, 30, -4, 8, -14, 1,
    4, 30, -9, 35, 0, -5, 26, 13, -26, 38,
    6, -3, -9, 2, 12, -1, -5, 8, 3, -11,
    -2, 15, 1, -7, -4, 10, 9, -2, -13, 4,
    18, -6, -1, 7, 2, -9, -3, 13, 5, -4,
    -15, 1, 11, -1, -7, 20, 4, -12, -2, 6,
    14, -5, -8, 3, 1, -3, -10, 9, 7, -16,
    -4, 2, 22, -2, -6, 11, 3, -8, -1, 5,
    10, -4, -12, 16, 2, -6, -3, 8, 13, -1,
    -9, 4, 6, -14, -2, 25, 1, -5, -7, 12,
    8, -3, -11, 3, 17, -1, -4, 7, 5, -10,
    -6, 1, 28, -2, -18, 9, 3, -7, -3, 14,
    11, -4, -1, 6, 2, -13, -8, 19, 9, -2,
    -5, 4, 15, -6, -2, 31, 1, -9, -12, 10,
    7, -3, -4, 3, 24, -1, -7, 12, 4, -11,
    -2, 8, 6, -5, -16, 2, 13, -8, -3, 35,
    2, -1, -6, 5, 10, -4, -9, 17, 3, -7,
    -1, 27, 8, -20, -5, 11, 1, -3, -2, 38,
]

# ---------------- figure ----------------
W, H = 1365, 1616
fig = plt.figure(figsize=(W / 100, H / 100), dpi=100)
fig.patch.set_facecolor("white")
renderer = fig.canvas.get_renderer()


def fit_size(text_obj, target_px):
    """Scale a text's font size so its rendered width equals target_px."""
    size0 = text_obj.get_fontsize()
    w = text_obj.get_window_extent(renderer).width
    size = size0 * target_px / w
    text_obj.set_fontsize(size)
    return size


def title_text(x, y, s, ha, size=30):
    return fig.text(x / W, 1 - y / H, s, ha=ha, va="baseline", fontsize=size,
                    family="Lato", fontweight="bold", color="#111111")


def draw_pairs(columns, names, rgb, alpha, xedges, yedges, label_frac, label_w,
               bottom_tick_cols=(), right_tick_rows=(), nbins=6):
    m = min(len(c) for c in columns)
    vals = [np.asarray(c[:m], dtype=float) for c in columns]
    lims = []
    for v in vals:
        lo, hi = v.min(), v.max()
        pad = 0.04 * (hi - lo)
        lims.append((lo - pad, hi + pad))
    face = tuple(rgb) + (alpha,)
    n = len(vals)
    label_size = None
    for i in range(n):
        for j in range(n):
            x0, x1 = xedges[j]
            y0, y1 = yedges[i]
            ax = fig.add_axes([x0 / W, 1 - y1 / H, (x1 - x0) / W, (y1 - y0) / H])
            ax.set_xlim(*lims[j])
            ax.set_ylim(*lims[i])
            ax.set_xticks([])
            ax.set_yticks([])
            for sp in ax.spines.values():
                sp.set_linewidth(1.7)
                sp.set_color("#2b2b2b")
            if i == j:
                t = ax.text(0.5, label_frac, names[i], transform=ax.transAxes,
                            ha="center", va="center", family="Liberation Sans",
                            fontsize=label_size or 20, color="#1a1a1a")
                if label_size is None:
                    label_size = fit_size(t, label_w)
            else:
                ax.scatter(vals[j], vals[i], s=17, c=[face], edgecolors="none")
            if i == n - 1 and j in bottom_tick_cols:
                ax.xaxis.set_major_locator(MaxNLocator(nbins))
                ax.tick_params(axis="x", bottom=True, top=False, labelbottom=False,
                               direction="out", length=5, width=1.0, color="#333333")
            if j == n - 1 and i in right_tick_rows:
                ax.yaxis.set_major_locator(MaxNLocator(nbins))
                ax.tick_params(axis="y", left=False, right=True, labelleft=False,
                               labelright=False, direction="out", length=5,
                               width=1.0, color="#333333")


BLACK = (0.0, 0.0, 0.0)
BLUE = (0.0, 0.0, 1.0)

# HLA, normalized
draw_pairs([hla_norm_dpa1, hla_norm_dpb1, hla_norm_dqb1, hla_norm_dra], hla_genes, BLACK, 0.5,
           [(38, 171), (197, 332), (358, 491), (519, 652)],
           [(160, 286), (312, 438), (466, 592), (619, 744)],
           label_frac=0.617, label_w=105)

# HLA, residuals
draw_pairs([hla_res_dpa1, hla_res_dpb1, hla_res_dqb1, hla_res_dra], hla_genes, BLUE, 0.45,
           [(758, 890), (917, 1051), (1076, 1209), (1237, 1370)],
           [(162, 288), (314, 440), (467, 594), (621, 746)],
           label_frac=0.617, label_w=105)

# checkpoint genes, normalized
draw_pairs([lag3_norm, lair1_norm, cd80_norm, cd274_norm], imm_genes, BLACK, 0.5,
           [(38, 169), (201, 332), (362, 494), (525, 655)],
           [(1021, 1142), (1174, 1297), (1331, 1454), (1486, 1608)],
           label_frac=0.644, label_w=77,
           bottom_tick_cols=(1, 3), right_tick_rows=(1, 3), nbins=6)

# checkpoint genes, residuals
draw_pairs([lag3_res, lair1_res, cd80_res, cd274_res], imm_genes, BLUE, 0.45,
           [(765, 897), (929, 1060), (1090, 1223), (1253, 1385)],
           [(1026, 1148), (1180, 1302), (1336, 1459), (1490, 1611)],
           label_frac=0.644, label_w=77,
           bottom_tick_cols=(1, 3), right_tick_rows=(1, 3), nbins=8)

# ---------------- titles ----------------
t = title_text(323, 79, "Normalized data", "center")
fit_size(t, 275)

l2 = title_text(795, 121, "higher level biology", "left")
s = fit_size(l2, 332)
title_text(795, 72, "Residuals after conditioning on", "left", size=s)

t = title_text(335, 915, "Normalized data", "center")
fit_size(t, 315)

l2 = title_text(789, 961, "higher level biology", "left")
s = fit_size(l2, 378)
title_text(789, 904, "Residuals after conditioning on", "left", size=s)

fig.savefig("out.png", dpi=100, facecolor="white")
